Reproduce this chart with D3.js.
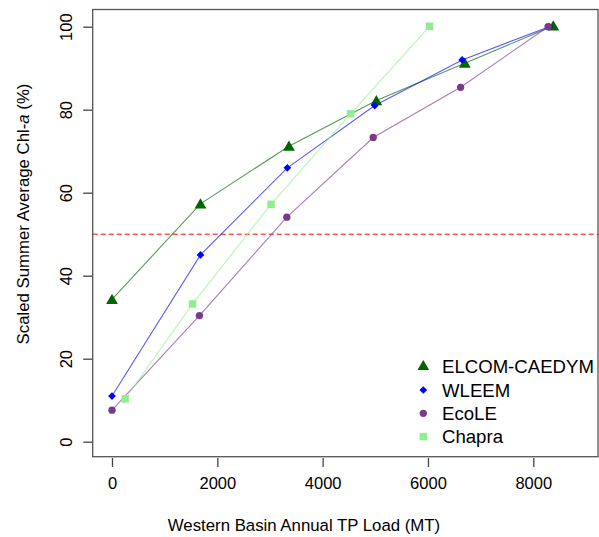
<!DOCTYPE html>
<html><head><meta charset="utf-8">
<script src="https://cdn.jsdelivr.net/npm/d3@7"></script>
<style>body{margin:0;background:#fff}svg{display:block}text{font-family:"Liberation Sans",Arial,sans-serif;fill:#000}</style>
</head><body>
<script>
const seriesNames = ["ELCOM-CAEDYM","WLEEM","EcoLE","Chapra"];
const elcomX = [0,1680,3360,5020,6700,8380];
const elcomY = [34.3,57.3,71.2,82.2,91.2,100.2];
const wleemX = [0,1680,3330,4990,6650,8300];
const wleemY = [11.0,45.0,66.0,81.0,92.0,100];
const ecoleX = [0,1660,3320,4960,6620,8280];
const ecoleY = [7.6,30.4,54.1,73.3,85.4,100];
const chapraX = [250,1530,3020,4530,6030];
const chapraY = [10.3,33.2,57.2,79.0,100.1];
const xTicks = [0,2000,4000,6000,8000];
const yTicks = [0,20,40,60,80,100];
const threshold = 50;

const W=599,H=537;
const svg=d3.select("body").append("svg").attr("width",W).attr("height",H);
const x=d3.scaleLinear().domain([0,8000]).range([112,533.3]);
const y=d3.scaleLinear().domain([0,100]).range([441.7,26.7]);
const box={l:92.7,r:598,t:9.5,b:456.7};

svg.append("line").attr("x1",box.l).attr("x2",box.r).attr("y1",y(threshold)).attr("y2",y(threshold))
  .attr("stroke","#ff0000").attr("stroke-width",1).attr("stroke-dasharray","5,3");

const diamond = { draw(ctx,size){ const r=Math.sqrt(size/2); ctx.moveTo(0,-r); ctx.lineTo(r,0); ctx.lineTo(0,r); ctx.lineTo(-r,0); ctx.closePath(); } };

const series=[
  {name:seriesNames[0],xs:elcomX,ys:elcomY,pt:"#006400",ln:"#006400",sym:d3.symbolTriangle,size:60},
  {name:seriesNames[1],xs:wleemX,ys:wleemY,pt:"#0000ff",ln:"#0000ff",sym:diamond,size:30},
  {name:seriesNames[2],xs:ecoleX,ys:ecoleY,pt:"#7a3a8c",ln:"#7a3a8c",sym:d3.symbolCircle,size:42},
  {name:seriesNames[3],xs:chapraX,ys:chapraY,pt:"#90ee90",ln:"#90ee90",sym:d3.symbolSquare,size:56}
];
const line=d3.line().x(d=>x(d[0])).y(d=>y(d[1]));
series.forEach(s=>{
  const pts=s.xs.map((v,i)=>[v,s.ys[i]]);
  svg.append("path").attr("d",line(pts)).attr("fill","none").attr("stroke",s.ln).attr("stroke-opacity",0.65).attr("stroke-width",1.1);
});
series.forEach(s=>{
  const pts=s.xs.map((v,i)=>[v,s.ys[i]]);
  const dy = s.sym===d3.symbolTriangle?1.2:0;
  svg.selectAll(null).data(pts).enter().append("path")
    .attr("d",d3.symbol().type(s.sym).size(s.size))
    .attr("transform",d=>`translate(${x(d[0])},${y(d[1])+dy})`)
    .attr("fill",s.pt);
});

svg.append("rect").attr("x",box.l).attr("y",box.t).attr("width",box.r-box.l).attr("height",box.b-box.t)
  .attr("fill","none").attr("stroke","#555").attr("stroke-width",1.3);

const xa=svg.append("g").attr("transform",`translate(0,${box.b+1.3})`)
  .call(d3.axisBottom(x).tickValues(xTicks).tickFormat(d3.format("d")).tickSize(9).tickPadding(10));
xa.select(".domain").remove();
xa.selectAll("line").attr("stroke","#444").attr("stroke-width",1.3);
xa.selectAll("text").attr("font-size",16.5).attr("fill","#000").style("font-family","Liberation Sans, Arial");

const ya=svg.append("g").attr("transform",`translate(${box.l-0.5},0)`)
  .call(d3.axisLeft(y).tickValues(yTicks).tickSize(9).tickFormat(d3.format("d")));
ya.select(".domain").remove();
ya.selectAll("line").attr("stroke","#444").attr("stroke-width",1.3);
ya.selectAll("text").remove();
ya.selectAll(".tick").append("text").text(d=>d)
  .attr("transform","translate(-26,0) rotate(-90)").attr("text-anchor","middle").attr("dy","0.35em")
  .attr("font-size",16.5).attr("fill","#000").style("font-family","Liberation Sans, Arial");

svg.append("text").attr("x",304).attr("y",531).attr("text-anchor","middle").attr("font-size",16.8)
  .text("Western Basin Annual TP Load (MT)");
const yt=svg.append("text").attr("transform","translate(29,214) rotate(-90)").attr("text-anchor","middle").attr("font-size",16.8);
yt.append("tspan").text("Scaled Summer Average Chl-");
yt.append("tspan").attr("font-style","italic").text("a");
yt.append("tspan").text(" (%)");

const lg=svg.append("g");
series.forEach((s,i)=>{
  const cy=366.7+i*23.3;
  lg.append("path").attr("d",d3.symbol().type(s.sym).size(s.size)).attr("transform",`translate(423.3,${cy})`).attr("fill",s.pt);
  lg.append("text").attr("x",442).attr("y",cy).attr("dy","0.35em").attr("font-size",18.6).text(s.name);
});
</script>
</body></html>
